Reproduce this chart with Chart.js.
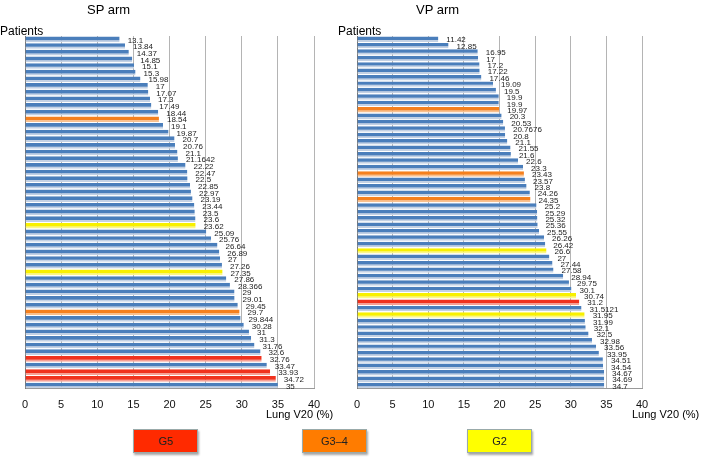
<!DOCTYPE html>
<html>
<head>
<meta charset="utf-8">
<script src="https://cdn.jsdelivr.net/npm/chart.js@4.4.1/dist/chart.umd.min.js"></script>
<style>
  body { margin: 0; background: #fff; font-family: "Liberation Sans", Arial, sans-serif; }
  #wrap { position: relative; width: 701px; height: 462px; overflow: hidden; }
  canvas { position: absolute; top: 0; }
  .txt { position: absolute; font-size: 12px; color: #000; white-space: nowrap; }
  .key { position: absolute; top: 429px; width: 63px; height: 22px; line-height: 23px;
         text-align: center; font-size: 11px; color: #222; border: 1px solid #9aa;
         box-shadow: 1px 2px 2px rgba(0,0,0,0.35); }
</style>
</head>
<body>
<div id="wrap">
  <canvas id="sp_chart" width="350" height="425" style="left:0"></canvas>
  <canvas id="vp_chart" width="351" height="425" style="left:350px"></canvas>

  <div class="txt" style="left:87px; top:2px; font-size:13px">SP arm</div>
  <div class="txt" style="left:416px; top:2px; font-size:13px">VP arm</div>
  <div class="txt" style="left:0; top:24px">Patients</div>
  <div class="txt" style="left:338px; top:24px">Patients</div>
  <div class="txt" style="left:266px; top:408px; font-size:11px">Lung V20 (%)</div>
  <div class="txt" style="left:632px; top:408px; font-size:11px">Lung V20 (%)</div>

  <div class="key" style="left:133px; background:#ff2a00">G5</div>
  <div class="key" style="left:302px; background:#ff7c00">G3–4</div>
  <div class="key" style="left:467px; background:#ffff00">G2</div>
</div>
<script>
// lung V20 per patient, sorted, as labelled on the bars
var spValues = [13.1, 13.84, 14.37, 14.85, 15.1, 15.3, 15.98, 17, 17.07, 17.3,
  17.49, 18.44, 18.54, 19.1, 19.87, 20.7, 20.76, 21.1, 21.1642, 22.22,
  22.47, 22.5, 22.85, 22.97, 23.19, 23.44, 23.5, 23.6, 23.62, 25.09,
  25.76, 26.64, 26.89, 27, 27.26, 27.35, 27.86, 28.366, 29, 29.01,
  29.45, 29.7, 29.844, 30.28, 31, 31.3, 31.76, 32.6, 32.76, 33.47,
  33.93, 34.72, 35];
var vpValues = [11.42, 12.85, 16.95, 17, 17.2, 17.22, 17.46, 19.09, 19.5, 19.9,
  19.9, 19.97, 20.3, 20.53, 20.7676, 20.8, 21.1, 21.55, 21.6, 22.6,
  23.3, 23.43, 23.57, 23.8, 24.26, 24.35, 25.2, 25.29, 25.32, 25.36,
  25.55, 26.26, 26.42, 26.6, 27, 27.44, 27.58, 28.94, 29.75, 30.1,
  30.74, 31.2, 31.5121, 31.95, 31.99, 32.1, 32.5, 32.98, 33.56, 33.95,
  34.51, 34.54, 34.67, 34.69, 34.7];

// toxicity grade of the patients that had one (by V20 value)
var spG5 = [32.76, 33.93, 34.72];
var spG34 = [18.54, 29.7];
var spG2 = [23.62, 27.35];
var vpG5 = [31.2];
var vpG34 = [19.97, 23.43, 24.35];
var vpG2 = [26.6, 30.74, 31.95];

var xTicks = [0, 5, 10, 15, 20, 25, 30, 35, 40];

var valueLabels = {
  id: 'valueLabels',
  afterDatasetsDraw: function(chart) {
    var ctx = chart.ctx;
    var data = chart.data.datasets[0].data;
    ctx.save();
    ctx.font = '8px "Liberation Sans", Arial, sans-serif';
    ctx.fillStyle = '#222';
    ctx.textBaseline = 'middle';
    chart.getDatasetMeta(0).data.forEach(function(bar, i) {
      ctx.fillText(String(data[i]), bar.x + 8, bar.y + 1);
    });
    ctx.restore();
  }
};

function makeChart(id, values, g5, g34, g2, pad) {
  var fill = values.map(function(v) {
    if (g5.indexOf(v) >= 0) return '#f0321e';
    if (g34.indexOf(v) >= 0) return '#f5801e';
    if (g2.indexOf(v) >= 0) return '#f8f000';
    return '#4a7ebb';
  });
  var shade = values.map(function(v) {
    if (g5.indexOf(v) >= 0) return '#f7a095';
    if (g34.indexOf(v) >= 0) return '#f9c08e';
    if (g2.indexOf(v) >= 0) return '#fbf78a';
    return '#c3d1e4';
  });

  var ctx = document.getElementById(id).getContext("2d");
  return new Chart(ctx, {
    type: 'bar',
    data: {
      labels: values.map(function(v, i) { return i + 1; }),
      datasets: [{
        data: values,
        backgroundColor: fill,
        borderColor: shade,
        borderWidth: {top: 0, right: 0, bottom: 2, left: 0},
        borderSkipped: false,
        barPercentage: 0.85,
        categoryPercentage: 1
      }]
    },
    options: {
      indexAxis: 'y',
      responsive: false,
      animation: false,
      devicePixelRatio: 1,
      layout: {padding: pad},
      plugins: {legend: {display: false}, tooltip: {enabled: false}},
      scales: {
        x: {
          min: 0, max: 40,
          afterBuildTicks: function(s) { s.ticks = xTicks.map(function(v) { return {value: v}; }); },
          afterFit: function(s) { s.paddingLeft = 0; s.paddingRight = 0; },
          ticks: {color: '#111', padding: 10, font: {size: 11, family: '"Liberation Sans", Arial'}},
          grid: {color: '#b4b4b4', drawTicks: false},
          border: {color: '#999'}
        },
        y: {
          afterFit: function(s) { s.width = 0; },
          ticks: {display: false},
          grid: {display: false},
          border: {color: '#777'}
        }
      }
    },
    plugins: [valueLabels]
  });
}

makeChart('sp_chart', spValues, spG5, spG34, spG2, {left: 25, top: 36, right: 36, bottom: 3});
makeChart('vp_chart', vpValues, vpG5, vpG34, vpG2, {left: 7, top: 36, right: 59, bottom: 3});
</script>
</body>
</html>
